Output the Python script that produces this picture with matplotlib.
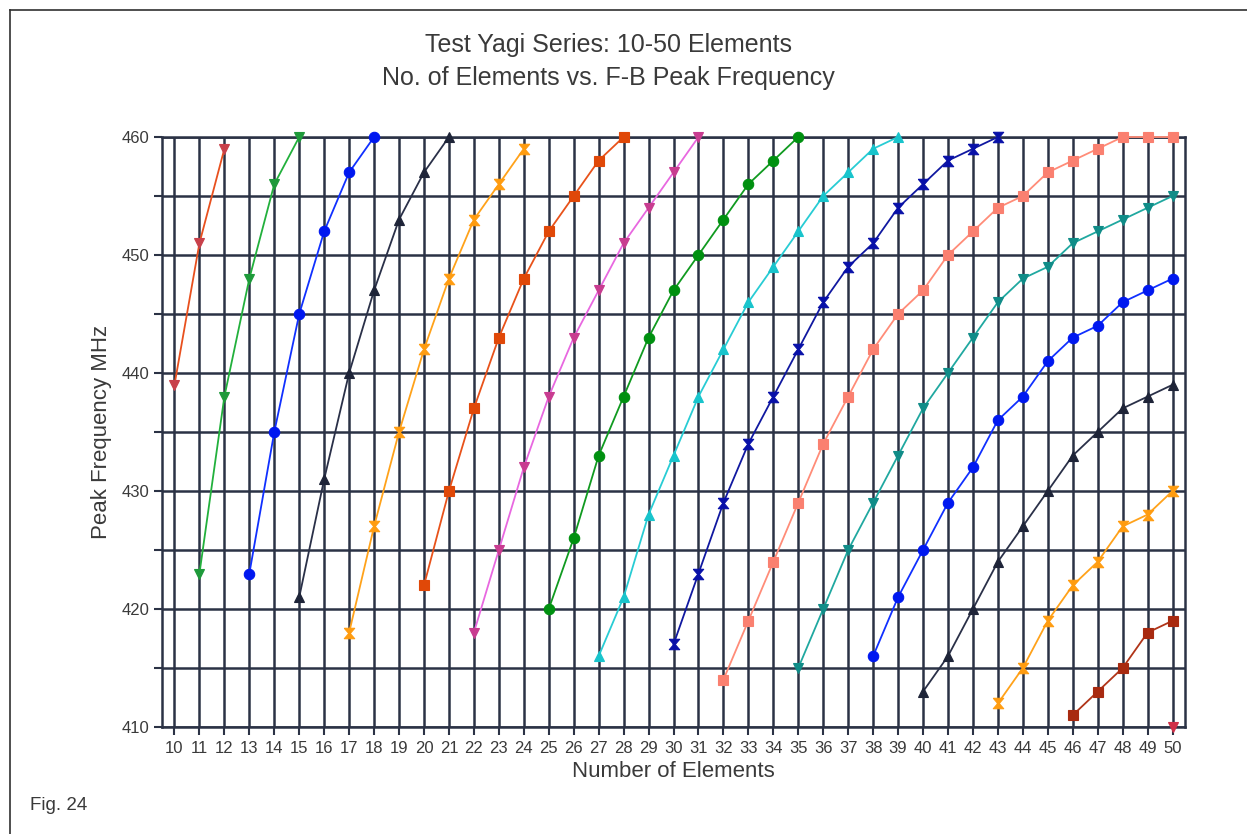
import matplotlib
matplotlib.use('Agg')
import matplotlib.pyplot as plt
from matplotlib.lines import Line2D

# Peak frequency (MHz) per series, each series starts at a given element count
start_1 = 10
freq_1 = [439, 451, 459]
start_2 = 11
freq_2 = [423, 438, 448, 456, 460]
start_3 = 13
freq_3 = [423, 435, 445, 452, 457, 460]
start_4 = 15
freq_4 = [421, 431, 440, 447, 453, 457, 460]
start_5 = 17
freq_5 = [418, 427, 435, 442, 448, 453, 456, 459]
start_6 = 20
freq_6 = [422, 430, 437, 443, 448, 452, 455, 458, 460]
start_7 = 22
freq_7 = [418, 425, 432, 438, 443, 447, 451, 454, 457, 460]
start_8 = 25
freq_8 = [420, 426, 433, 438, 443, 447, 450, 453, 456, 458, 460]
start_9 = 27
freq_9 = [416, 421, 428, 433, 438, 442, 446, 449, 452, 455, 457, 459, 460]
start_10 = 30
freq_10 = [417, 423, 429, 434, 438, 442, 446, 449, 451, 454, 456, 458, 459, 460]
start_11 = 32
freq_11 = [414, 419, 424, 429, 434, 438, 442, 445, 447, 450, 452, 454, 455,
           457, 458, 459, 460, 460, 460]
start_12 = 35
freq_12 = [415, 420, 425, 429, 433, 437, 440, 443, 446, 448, 449, 451, 452,
           453, 454, 455]
start_13 = 38
freq_13 = [416, 421, 425, 429, 432, 436, 438, 441, 443, 444, 446, 447, 448]
start_14 = 40
freq_14 = [413, 416, 420, 424, 427, 430, 433, 435, 437, 438, 439]
start_15 = 43
freq_15 = [412, 415, 419, 422, 424, 427, 428, 430]
start_16 = 46
freq_16 = [411, 413, 415, 418, 419]
start_17 = 50
freq_17 = [410]

elements = list(range(10, 51))
y_labels = [410, 420, 430, 440, 450, 460]

hourglass = [(-1, 1), (1, 1), (0.15, 0), (1, -1), (-1, -1), (-0.15, 0), (-1, 1)]

# (start, values, line colour, marker, marker colour)
series = [
    (start_1, freq_1, '#E8501E', 'v', '#C8404A'),
    (start_2, freq_2, '#22B03C', 'v', '#1E9A3A'),
    (start_3, freq_3, '#1030FF', 'o', '#0018F0'),
    (start_4, freq_4, '#2A3048', '^', '#1E2438'),
    (start_5, freq_5, '#FFA21A', hourglass, '#FF9C10'),
    (start_6, freq_6, '#E8521A', 's', '#E04808'),
    (start_7, freq_7, '#E868E0', 'v', '#C83C90'),
    (start_8, freq_8, '#109A20', 'o', '#009010'),
    (start_9, freq_9, '#28CCD4', '^', '#18C4CC'),
    (start_10, freq_10, '#1018A0', hourglass, '#0810A8'),
    (start_11, freq_11, '#FF8C78', 's', '#FA8070'),
    (start_12, freq_12, '#20A8A0', 'v', '#108C88'),
    (start_13, freq_13, '#1030FF', 'o', '#0018F0'),
    (start_14, freq_14, '#2A3048', '^', '#1E2438'),
    (start_15, freq_15, '#FFA21A', hourglass, '#FF9C10'),
    (start_16, freq_16, '#B03418', 's', '#A82A10'),
    (start_17, freq_17, '#D03040', 'v', '#D03048'),
]

text_color = '#3A3A3A'
grid_color = '#2B3245'

plt.rcParams['font.family'] = ['Liberation Sans', 'DejaVu Sans']

fig = plt.figure(figsize=(12.47, 8.34), dpi=100)
ax = fig.add_axes([162 / 1247, 1 - 727 / 834, (1185 - 162) / 1247, (727 - 137) / 834])

for start, vals, lc, mk, mc in series:
    xs = list(range(start, start + len(vals)))
    ax.plot(xs, vals, color=lc, linewidth=1.3, marker=mk, markersize=7.5,
            markerfacecolor=mc, markeredgecolor=mc, markeredgewidth=0.8,
            clip_on=False, zorder=3)

ax.set_xlim(9.5, 50.5)
ax.set_ylim(410, 460)
ax.set_xticks(elements)
ax.set_xticklabels([str(e) for e in elements])
ax.set_yticks(range(410, 461, 5))
ax.set_yticklabels([str(v) if v in y_labels else '' for v in range(410, 461, 5)])
ax.set_axisbelow(True)
ax.grid(True, color=grid_color, linewidth=1.8)
ax.tick_params(axis='both', colors=grid_color, labelcolor=text_color,
               labelsize=12, length=6, width=1.5, pad=3)
ax.tick_params(axis='x', pad=4)
for side in ['left', 'bottom', 'top', 'right']:
    ax.spines[side].set_color(grid_color)
    ax.spines[side].set_linewidth(1.8)

ax.set_xlabel('Number of Elements', fontsize=16, color=text_color, labelpad=4)
ax.set_ylabel('Peak Frequency MHz', fontsize=16, color=text_color, labelpad=7)

fig.text(0.488, 1 - 45 / 834, 'Test Yagi Series: 10-50 Elements', ha='center',
         va='center', fontsize=18, color=text_color)
fig.text(0.488, 1 - 78 / 834, 'No. of Elements vs. F-B Peak Frequency', ha='center',
         va='center', fontsize=18, color=text_color)
fig.text(30 / 1247, 1 - 805 / 834, 'Fig. 24', ha='left', va='center',
         fontsize=13.5, color=text_color)

# outer frame (top and left edges)
fig.add_artist(Line2D([10 / 1247, 1], [1 - 10 / 834, 1 - 10 / 834],
                      transform=fig.transFigure, color='#303030', linewidth=1.2))
fig.add_artist(Line2D([10 / 1247, 10 / 1247], [0, 1 - 10 / 834],
                      transform=fig.transFigure, color='#303030', linewidth=1.2))

plt.savefig('out.png', dpi=100)
